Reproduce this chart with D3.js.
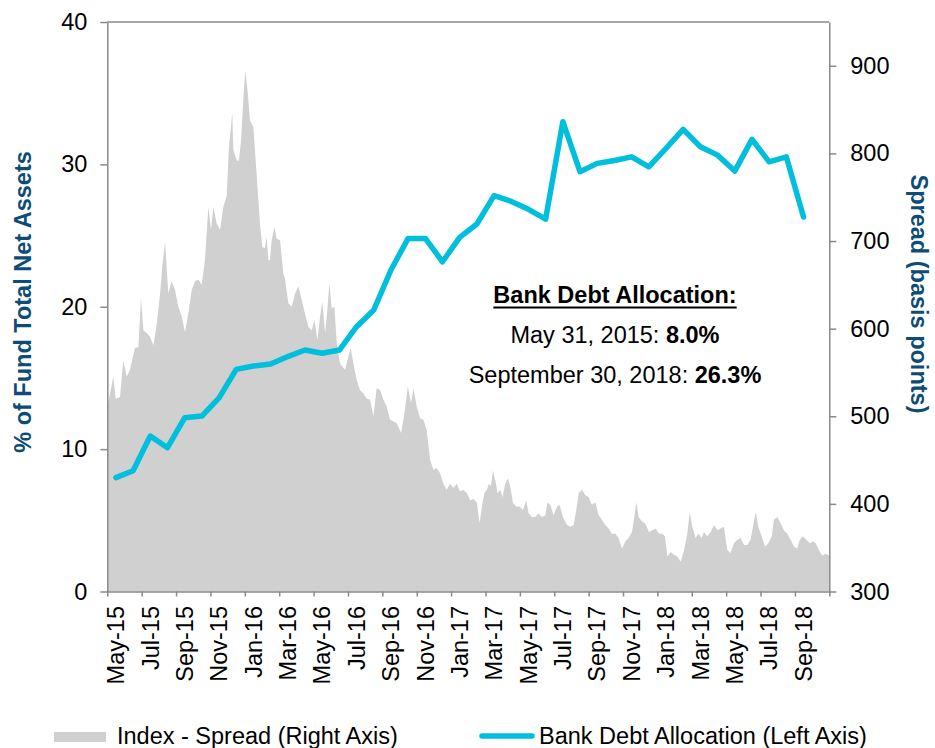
<!DOCTYPE html>
<html>
<head>
<meta charset="utf-8">
<script src="https://cdn.jsdelivr.net/npm/d3@7"></script>
<style>
  body { margin: 0; background: #fff; }
  text { font-family: "Liberation Sans", Arial, sans-serif; }
</style>
</head>
<body>
<svg id="chart" width="935" height="748"></svg>
<script>
// monthly categories on the x axis
const months = [
  'May-15', 'Jun-15', 'Jul-15', 'Aug-15', 'Sep-15', 'Oct-15', 'Nov-15', 'Dec-15',
  'Jan-16', 'Feb-16', 'Mar-16', 'Apr-16', 'May-16', 'Jun-16', 'Jul-16', 'Aug-16',
  'Sep-16', 'Oct-16', 'Nov-16', 'Dec-16', 'Jan-17', 'Feb-17', 'Mar-17', 'Apr-17',
  'May-17', 'Jun-17', 'Jul-17', 'Aug-17', 'Sep-17', 'Oct-17', 'Nov-17', 'Dec-17',
  'Jan-18', 'Feb-18', 'Mar-18', 'Apr-18', 'May-18', 'Jun-18', 'Jul-18', 'Aug-18',
  'Sep-18', 'Oct-18'
]

// Bank debt allocation, % of fund total net assets, May-15 .. Sep-18
const allocation = [
  8.0, 8.48, 10.92, 10.1, 12.2, 12.32, 13.6, 15.6, 15.84, 15.98,
  16.5, 16.96, 16.73, 16.96, 18.6, 19.77, 22.58, 24.8, 24.8, 23.16,
  24.87, 25.81, 27.8, 27.4, 26.84, 26.16, 33.0, 29.48, 30.07, 30.27,
  30.53, 29.83, 31.12, 32.46, 31.24, 30.65, 29.53, 31.76, 30.18, 30.53,
  26.3
]

// Index spread (bp): [months since 1 May 2015, spread]
const spread = [
  [0.0, 510], [0.35, 545], [0.49, 520], [0.74, 522], [0.93, 564], [1.13, 545], [1.32, 553],
  [1.42, 562], [1.61, 578], [1.81, 579], [1.96, 635], [2.10, 598], [2.29, 595], [2.48, 591],
  [2.68, 581], [2.87, 604], [3.07, 640], [3.20, 671], [3.36, 699], [3.55, 640], [3.74, 654],
  [3.94, 644], [4.13, 625], [4.33, 614], [4.52, 596], [4.71, 617], [4.91, 644], [5.10, 654],
  [5.30, 656], [5.49, 650], [5.68, 678], [5.88, 739], [6.03, 713], [6.17, 739], [6.36, 720],
  [6.56, 713], [6.75, 739], [6.94, 751], [7.08, 808], [7.27, 846], [7.33, 804], [7.53, 792],
  [7.66, 792], [7.78, 815], [7.91, 861], [8.03, 895], [8.17, 869], [8.30, 838], [8.50, 830],
  [8.63, 792], [8.79, 747], [8.88, 720], [9.02, 693], [9.17, 692], [9.27, 705], [9.37, 678],
  [9.46, 678], [9.56, 701], [9.72, 716], [9.85, 703], [10.05, 701], [10.24, 663],
  [10.34, 657], [10.53, 629], [10.73, 625], [10.92, 640], [11.12, 648], [11.31, 633], [11.50, 617],
  [11.70, 602], [11.89, 598], [12.05, 610], [12.22, 587], [12.38, 614], [12.51, 631], [12.67, 595],
  [12.80, 621], [12.92, 652], [13.05, 623], [13.21, 625], [13.35, 583], [13.54, 560], [13.83, 553],
  [14.02, 568], [14.16, 578], [14.32, 560], [14.51, 541], [14.70, 530], [14.90, 526], [15.09, 520],
  [15.28, 519], [15.48, 500], [15.67, 532], [15.87, 530], [16.06, 519], [16.25, 511], [16.45, 496],
  [16.64, 494], [16.84, 492], [17.09, 481], [17.28, 503], [17.48, 534], [17.67, 515], [17.81, 532],
  [18.0, 511], [18.19, 498], [18.39, 496], [18.58, 484], [18.78, 450], [18.97, 439], [19.16, 441],
  [19.36, 435], [19.55, 423], [19.74, 416], [19.94, 423], [20.13, 418], [20.33, 423], [20.52, 414],
  [20.71, 416], [20.92, 412], [21.11, 404], [21.31, 406], [21.50, 401], [21.66, 378], [21.79, 397],
  [21.93, 412], [22.08, 416], [22.20, 423], [22.32, 420], [22.43, 438], [22.57, 427], [22.70, 412],
  [22.86, 416], [22.99, 408], [23.15, 423], [23.31, 429], [23.44, 420], [23.60, 401], [23.79, 397],
  [23.98, 397], [24.18, 393], [24.37, 404], [24.51, 389], [24.70, 385], [24.90, 385], [25.09, 389],
  [25.28, 385], [25.48, 387], [25.61, 402], [25.77, 399], [25.96, 387], [26.16, 397], [26.31, 399],
  [26.50, 385], [26.74, 376], [26.93, 374], [27.13, 376], [27.28, 393], [27.42, 412], [27.61, 416],
  [27.80, 410], [28.0, 408], [28.19, 399], [28.39, 402], [28.58, 387], [28.77, 382], [28.97, 376],
  [29.16, 372], [29.35, 366], [29.55, 366], [29.74, 361], [29.94, 349], [30.13, 357], [30.32, 361],
  [30.52, 368], [30.65, 384], [30.77, 402], [30.91, 385], [31.10, 380], [31.29, 378],
  [31.51, 368], [31.70, 370], [31.90, 372], [32.09, 366], [32.29, 366], [32.44, 363], [32.58, 340],
  [32.77, 345], [32.96, 342], [33.16, 340], [33.35, 334], [33.55, 347], [33.74, 366], [33.88, 391],
  [34.03, 374], [34.22, 361], [34.38, 366], [34.57, 361], [34.71, 368], [34.90, 363], [35.10, 368],
  [35.29, 376], [35.49, 370], [35.68, 372], [35.87, 374], [36.07, 347], [36.26, 344], [36.45, 355],
  [36.65, 359], [36.84, 361], [37.04, 353], [37.23, 353], [37.42, 359], [37.56, 374], [37.72, 391],
  [37.87, 374], [38.06, 363], [38.26, 351], [38.45, 355], [38.65, 363], [38.78, 382], [38.98, 385],
  [39.17, 378], [39.36, 370], [39.56, 366], [39.75, 359], [39.95, 351], [40.14, 349], [40.28, 359],
  [40.47, 363], [40.66, 359], [40.86, 355], [41.05, 357], [41.21, 355], [41.40, 347], [41.59, 341],
  [41.79, 343], [42.0, 341]
]

const leftTicks = [0, 10, 20, 30, 40]
const rightTicks = [300, 400, 500, 600, 700, 800, 900]

const FONT = 23.5
const AXIS = '#8a8a8a'
const BLUE = '#0e4c78'
const CYAN = '#00bfdd'
const GREY = '#d0d0d0'

const plotLeft = 107.3
const plotRight = 829.3
const plotTop = 22
const plotBottom = 591.5

const svg = d3.select('#chart')

const xBand = d3.scaleBand().domain(months).range([plotLeft, plotRight])
const xTime = d3.scaleLinear().domain([0, months.length]).range([plotLeft, plotRight])
const yLeft = d3.scaleLinear().domain([0, 40]).range([plotBottom, plotTop])
const yRight = d3.scaleLinear().domain([300, 950]).range([plotBottom, plotTop])

// spread area
svg.append('path')
  .datum(spread)
  .attr('fill', GREY)
  .attr('d', d3.area()
    .x((d) => xTime(d[0]))
    .y0(plotBottom)
    .y1((d) => yRight(d[1])))

// top border of plot
svg.append('line')
  .attr('x1', plotLeft).attr('x2', plotRight)
  .attr('y1', plotTop).attr('y2', plotTop)
  .attr('stroke', AXIS).attr('stroke-width', 1.5)

const styleAxis = (g) => {
  g.selectAll('.domain').attr('stroke', AXIS).attr('stroke-width', 1.5)
  g.selectAll('.tick line').attr('stroke', AXIS).attr('stroke-width', 1.5)
  g.selectAll('.tick text')
    .attr('fill', '#000')
    .style('font-family', '"Liberation Sans", Arial, sans-serif')
    .style('font-size', FONT + 'px')
}

svg.append('g')
  .attr('transform', `translate(${plotLeft},0)`)
  .call(d3.axisLeft(yLeft).tickValues(leftTicks).tickSize(7).tickPadding(13).tickSizeOuter(0))
  .call(styleAxis)

svg.append('g')
  .attr('transform', `translate(${plotRight},0)`)
  .call(d3.axisRight(yRight).tickValues(rightTicks).tickSize(7).tickPadding(14).tickSizeOuter(0))
  .call(styleAxis)

svg.append('g')
  .attr('transform', `translate(0,${plotBottom})`)
  .call(d3.axisBottom(xTime).tickValues(d3.range(0, months.length + 1, 2)).tickFormat('').tickSize(5).tickSizeOuter(0))
  .call(styleAxis)

// month labels, every second month, centred on the category
svg.append('g')
  .selectAll('text')
  .data(months.filter((m, i) => i % 2 === 0 && i < months.length - 1))
  .join('text')
  .attr('transform', (d) => `translate(${xBand(d) + xBand.bandwidth() / 2},606) rotate(-90)`)
  .attr('text-anchor', 'end')
  .attr('dy', '0.35em')
  .style('font-size', FONT + 'px')
  .text((d) => d)

// allocation line
svg.append('path')
  .datum(allocation)
  .attr('fill', 'none')
  .attr('stroke', CYAN)
  .attr('stroke-width', 5.5)
  .attr('stroke-linejoin', 'round')
  .attr('stroke-linecap', 'round')
  .attr('d', d3.line()
    .x((d, i) => xBand(months[i]) + xBand.bandwidth() / 2)
    .y((d) => yLeft(d)))

// axis titles
svg.append('text')
  .attr('transform', 'translate(23,302) rotate(-90)')
  .attr('text-anchor', 'middle')
  .attr('dy', '0.35em')
  .attr('fill', BLUE)
  .style('font-weight', 'bold')
  .style('font-size', FONT + 'px')
  .text('% of Fund Total Net Assets')

svg.append('text')
  .attr('transform', 'translate(919,294) rotate(90)')
  .attr('text-anchor', 'middle')
  .attr('dy', '0.35em')
  .attr('fill', BLUE)
  .style('font-weight', 'bold')
  .style('font-size', FONT + 'px')
  .text('Spread (basis points)')

// annotation
const note = svg.append('g').style('font-size', FONT + 'px')
const heading = note.append('text')
  .attr('x', 615).attr('y', 303)
  .attr('text-anchor', 'middle')
  .style('font-weight', 'bold')
  .text('Bank Debt Allocation:')
const hb = heading.node().getBBox()
note.append('line')
  .attr('x1', hb.x).attr('x2', hb.x + hb.width)
  .attr('y1', 307.5).attr('y2', 307.5)
  .attr('stroke', '#000').attr('stroke-width', 2)

const l1 = note.append('text').attr('x', 615).attr('y', 343).attr('text-anchor', 'middle')
l1.append('tspan').text('May 31, 2015: ')
l1.append('tspan').style('font-weight', 'bold').text('8.0%')
const l2 = note.append('text').attr('x', 615).attr('y', 383).attr('text-anchor', 'middle')
l2.append('tspan').text('September 30, 2018: ')
l2.append('tspan').style('font-weight', 'bold').text('26.3%')

// legend
const legend = svg.append('g').style('font-size', FONT + 'px')
legend.append('rect')
  .attr('x', 54).attr('y', 732).attr('width', 52).attr('height', 10)
  .attr('fill', GREY)
legend.append('text').attr('x', 117).attr('y', 744).text('Index - Spread (Right Axis)')
legend.append('line')
  .attr('x1', 482).attr('x2', 532).attr('y1', 736).attr('y2', 736)
  .attr('stroke', CYAN).attr('stroke-width', 5.5).attr('stroke-linecap', 'round')
legend.append('text').attr('x', 539).attr('y', 744).text('Bank Debt Allocation (Left Axis)')
</script>
</body>
</html>
